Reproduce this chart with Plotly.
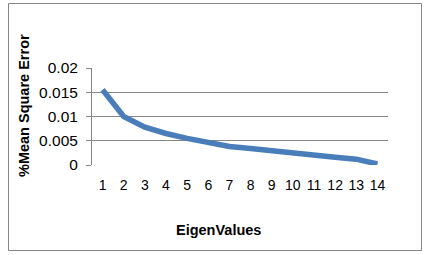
import plotly.graph_objects as go

categories = [str(i) for i in range(1, 15)]
mse = [0.0155, 0.0100, 0.0078, 0.0065, 0.0055, 0.0046, 0.0038, 0.0034,
       0.0029, 0.0025, 0.0020, 0.0016, 0.0012, 0.0002]
y_ticks = [0, 0.005, 0.01, 0.015, 0.02]
y_tick_labels = ["0", "0.005", "0.01", "0.015", "0.02"]

W, H = 430, 255
L, R, T, B = 92, 42, 68, 90
pw, ph = W - L - R, H - T - B

def px(x):
    return (x - L) / pw

def py(y):
    return (H - B - y) / ph

FONT = "Arial, Liberation Sans, sans-serif"

fig = go.Figure()
fig.add_trace(go.Scatter(
    x=categories, y=mse, mode="lines",
    line=dict(color="#4A7EBB", width=5.5),
    showlegend=False, hoverinfo="skip"))

fig.update_layout(
    width=W, height=H,
    margin=dict(l=L, r=R, t=T, b=B, pad=0),
    paper_bgcolor="white", plot_bgcolor="white",
    font=dict(family=FONT, size=13, color="black"),
    xaxis=dict(type="category", showgrid=False, zeroline=False, showline=False,
               ticks="", tickfont=dict(size=14), ticklabelstandoff=10,
               range=[-0.5, 13.5], fixedrange=True),
    yaxis=dict(range=[0, 0.02], tickvals=y_ticks, ticktext=y_tick_labels,
               showgrid=True, gridcolor="#868686", gridwidth=1,
               zeroline=False, showline=True, linecolor="#868686", linewidth=1,
               ticks="outside", ticklen=5, tickcolor="#868686",
               tickfont=dict(size=15.5), ticklabelstandoff=5, fixedrange=True),
    shapes=[dict(type="rect", xref="paper", yref="paper",
                 x0=px(8.5), x1=px(421.5), y0=py(250.5), y1=py(3.5),
                 line=dict(color="#868686", width=1), fillcolor="rgba(0,0,0,0)",
                 layer="below")],
    annotations=[
        dict(text="<b>%Mean Square Error</b>", xref="paper", yref="paper",
             x=px(24), y=py(106), textangle=-90, showarrow=False,
             font=dict(size=14.5, family=FONT),
             xanchor="center", yanchor="middle"),
        dict(text="<b>EigenValues</b>", xref="paper", yref="paper",
             x=px(218.5), y=py(230), showarrow=False,
             font=dict(size=14.5, family=FONT),
             xanchor="center", yanchor="middle"),
    ],
)

fig.write_html("out.html",
               config={"displayModeBar": False, "staticPlot": True},
               post_script="document.body.style.margin='0';"
                           "document.body.style.overflow='hidden';")
